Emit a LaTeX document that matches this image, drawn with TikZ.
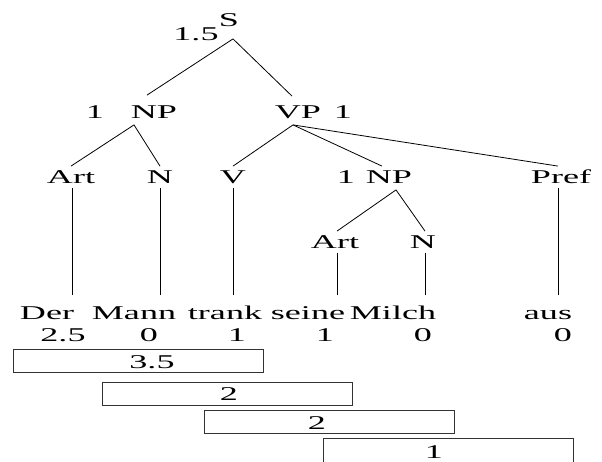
\documentclass[tikz,border=0pt]{standalone}
\usepackage{fontspec}
\setmainfont{Liberation Serif}[FakeStretch=1.85]
\usetikzlibrary{positioning}

\begin{document}
\begin{tikzpicture}[x=1pt,y=-1pt,line width=0.8pt,
  every node/.style={font=\fontsize{19.5}{21}\selectfont},
  cat/.style={inner xsep=1pt,inner ysep=4pt,text height=13pt,text depth=0pt},
  word/.style={inner sep=0pt,outer ysep=12pt,text height=12.5pt,anchor=base},
  val/.style={inner sep=0pt,anchor=base},
  span/.style={draw=black!80,minimum width=250pt,minimum height=23pt,inner sep=0pt,anchor=north west}]
\useasboundingbox (0,0) rectangle (602,461);

% tree
\node[cat] (s) at (229,20) {S};
\node[cat] (s-w) at (196,34) {1.5};
\node[cat] (np1) at (154,112) {NP};
\node[cat] (np1-w) at (95,112) {1};
\node[cat] (vp) at (298,112) {VP};
\node[cat] (vp-w) at (343,112) {1};
\node[cat] (art1) at (71,177) {Art};
\node[cat] (n1) at (160,177) {N};
\node[cat] (v) at (233,177) {V};
\node[cat] (np2-w) at (346,177) {1};
\node[cat] (np2) at (389,177) {NP};
\node[cat] (pref) at (561,177) {Pref};
\node[cat] (art2) at (335,242) {Art};
\node[cat] (n2) at (423,242) {N};

% words and their values
\node[word] (der) at (47,319) {Der};
\node[word] (mann) at (134,319) {Mann};
\node[word] (trank) at (225,319) {trank};
\node[word] (seine) at (308,319) {seine};
\node[word] (milch) at (393,319) {Milch};
\node[word] (aus) at (548,319) {aus};
\node[val] (der-w) at (63,341) {2.5};
\node[val] (mann-w) at (149,341) {0};
\node[val] (trank-w) at (237,341) {1};
\node[val] (seine-w) at (325,341) {1};
\node[val] (milch-w) at (423,341) {0};
\node[val] (aus-w) at (563,341) {0};

% spans
\node[span] (sp1) at (13,349) {};
\node[span] (sp2) at (102,382) {};
\node[span] (sp3) at (204,410) {};
\node[span,minimum height=26pt] (sp4) at (323,438) {};
\node[val] (sp1-w) at (152,368) {3.5};
\node[val] (sp2-w) at (229,400) {2};
\node[val] (sp3-w) at (317,429) {2};
\node[val] (sp4-w) at (434,458) {1};

\draw ([shift={(4pt,-8pt)}]s.south) -- ([shift={(-7pt,6pt)}]np1.north);
\draw ([shift={(4pt,-8pt)}]s.south) -- ([shift={(-6pt,5pt)}]vp.north);
\draw ([shift={(-20pt,-2pt)}]np1.south) -- (art1.north);
\draw ([shift={(-20pt,-2pt)}]np1.south) -- (n1.north);
\draw ([shift={(-5pt,-2pt)}]vp.south) -- (v.north);
\draw ([shift={(-5pt,-2pt)}]vp.south) -- ([xshift=-7pt]np2.north);
\draw ([shift={(-5pt,-2pt)}]vp.south) -- ([xshift=-3pt]pref.north);
\draw ([shift={(7pt,-2pt)}]np2.south) -- ([xshift=2pt]art2.north);
\draw ([shift={(7pt,-2pt)}]np2.south) -- ([xshift=2pt]n2.north);

\draw ([xshift=1pt]art1.south) -- ([xshift=1pt]art1.south |- der.north);
\draw (n1.south) -- (n1.south |- mann.north);
\draw (v.south) -- (v.south |- trank.north);
\draw ([xshift=2pt]art2.south) -- ([xshift=2pt]art2.south |- seine.north);
\draw ([xshift=2pt]n2.south) -- ([xshift=2pt]n2.south |- milch.north);
\draw ([xshift=-3pt]pref.south) -- ([xshift=-3pt]pref.south |- aus.north);
\end{tikzpicture}
\end{document}
